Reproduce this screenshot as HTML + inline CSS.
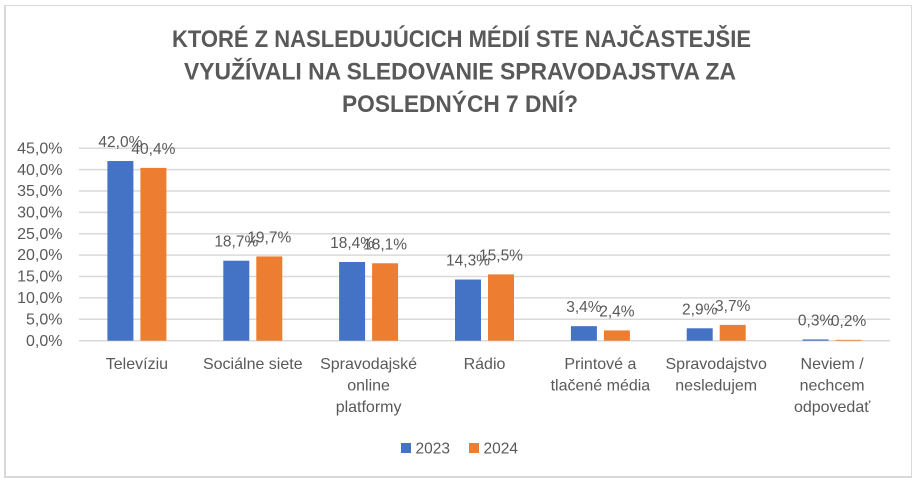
<!DOCTYPE html>
<html><head><meta charset="utf-8"><style>
html,body{margin:0;padding:0;background:#fff;}
svg{display:block;}
text{font-family:"Liberation Sans",Arial,sans-serif;fill:#595959;}
</style></head><body>
<svg width="922" height="486" viewBox="0 0 922 486" xmlns="http://www.w3.org/2000/svg">
<rect x="0" y="0" width="922" height="486" fill="#fff"/>
<!-- border -->
<rect x="5.5" y="5.5" width="906" height="471" fill="none" stroke="#d9d9d9" stroke-width="1"/>
<line x1="5" y1="5" x2="5" y2="478" stroke="#d9d9d9" stroke-width="2"/>
<line x1="4" y1="477" x2="912" y2="477" stroke="#d9d9d9" stroke-width="2"/>
<!-- title -->
<g font-weight="bold" font-size="24">
<text x="172" y="47" textLength="579" lengthAdjust="spacingAndGlyphs">KTORÉ Z NASLEDUJÚCICH MÉDIÍ STE NAJČASTEJŠIE</text>
<text x="184" y="79.5" textLength="552" lengthAdjust="spacingAndGlyphs">VYUŽÍVALI NA SLEDOVANIE SPRAVODAJSTVA ZA</text>
<text x="342" y="112" textLength="236" lengthAdjust="spacingAndGlyphs">POSLEDNÝCH 7 DNÍ?</text>
</g>
<!-- gridlines -->
<g stroke="#d9d9d9" stroke-width="1.5">
<line x1="79" y1="340.7" x2="890" y2="340.7"/>
<line x1="79" y1="319.3" x2="890" y2="319.3"/>
<line x1="79" y1="297.9" x2="890" y2="297.9"/>
<line x1="79" y1="276.5" x2="890" y2="276.5"/>
<line x1="79" y1="255.1" x2="890" y2="255.1"/>
<line x1="79" y1="233.8" x2="890" y2="233.8"/>
<line x1="79" y1="212.4" x2="890" y2="212.4"/>
<line x1="79" y1="191.0" x2="890" y2="191.0"/>
<line x1="79" y1="169.6" x2="890" y2="169.6"/>
<line x1="79" y1="148.2" x2="890" y2="148.2"/>
</g>
<!-- y tick labels -->
<g font-size="16" text-anchor="end">
<text x="62.5" y="346">0,0%</text>
<text x="62.5" y="324.5">5,0%</text>
<text x="62.5" y="303">10,0%</text>
<text x="62.5" y="281.5">15,0%</text>
<text x="62.5" y="260.2">20,0%</text>
<text x="62.5" y="239">25,0%</text>
<text x="62.5" y="217.5">30,0%</text>
<text x="62.5" y="196.2">35,0%</text>
<text x="62.5" y="174.8">40,0%</text>
<text x="62.5" y="153.4">45,0%</text>
</g>
<!-- bars 2023 -->
<g fill="#4472C4">
<rect x="107.4" y="161.03" width="26" height="179.67"/>
<rect x="223.3" y="260.7" width="26" height="80.0"/>
<rect x="339.1" y="261.99" width="26" height="78.71"/>
<rect x="455.0" y="279.53" width="26" height="61.17"/>
<rect x="570.9" y="326.16" width="26" height="14.54"/>
<rect x="686.7" y="328.29" width="26" height="12.41"/>
<rect x="802.6" y="339.42" width="26" height="1.28"/>
</g>
<!-- bars 2024 -->
<g fill="#ED7D31">
<rect x="140.4" y="167.88" width="26" height="172.82"/>
<rect x="256.3" y="256.43" width="26" height="84.27"/>
<rect x="372.1" y="263.27" width="26" height="77.43"/>
<rect x="488.0" y="274.39" width="26" height="66.31"/>
<rect x="603.9" y="330.43" width="26" height="10.27"/>
<rect x="719.7" y="324.87" width="26" height="15.83"/>
<rect x="835.6" y="339.84" width="26" height="0.86"/>
</g>
<!-- data labels -->
<g font-size="15.5" text-anchor="middle">
<text x="120.4" y="147">42,0%</text>
<text x="236.3" y="246.7">18,7%</text>
<text x="352.1" y="248">18,4%</text>
<text x="468.0" y="265.5">14,3%</text>
<text x="583.9" y="312.2">3,4%</text>
<text x="699.7" y="314.3">2,9%</text>
<text x="815.6" y="325.4">0,3%</text>
<text x="153.4" y="153.9">40,4%</text>
<text x="269.3" y="242.4">19,7%</text>
<text x="385.1" y="249.3">18,1%</text>
<text x="501.0" y="260.4">15,5%</text>
<text x="616.9" y="316.4">2,4%</text>
<text x="732.7" y="310.9">3,7%</text>
<text x="848.6" y="325.8">0,2%</text>
</g>
<!-- category labels -->
<g font-size="16" text-anchor="middle">
<text x="136.9" y="369">Televíziu</text>
<text x="252.8" y="369">Sociálne siete</text>
<text x="368.6" y="369">Spravodajské</text>
<text x="368.6" y="390.5">online</text>
<text x="368.6" y="412">platformy</text>
<text x="484.5" y="369">Rádio</text>
<text x="600.4" y="369">Printové a</text>
<text x="600.4" y="390.5">tlačené média</text>
<text x="716.2" y="369">Spravodajstvo</text>
<text x="716.2" y="390.5">nesledujem</text>
<text x="832.1" y="369">Neviem /</text>
<text x="832.1" y="390.5">nechcem</text>
<text x="832.1" y="412">odpovedať</text>
</g>
<!-- legend -->
<rect x="401" y="443" width="10" height="10" fill="#4472C4"/>
<text x="415.5" y="453.3" font-size="15.5">2023</text>
<rect x="469" y="443" width="10" height="10" fill="#ED7D31"/>
<text x="483.5" y="453.3" font-size="15.5">2024</text>
</svg>
</body></html>
